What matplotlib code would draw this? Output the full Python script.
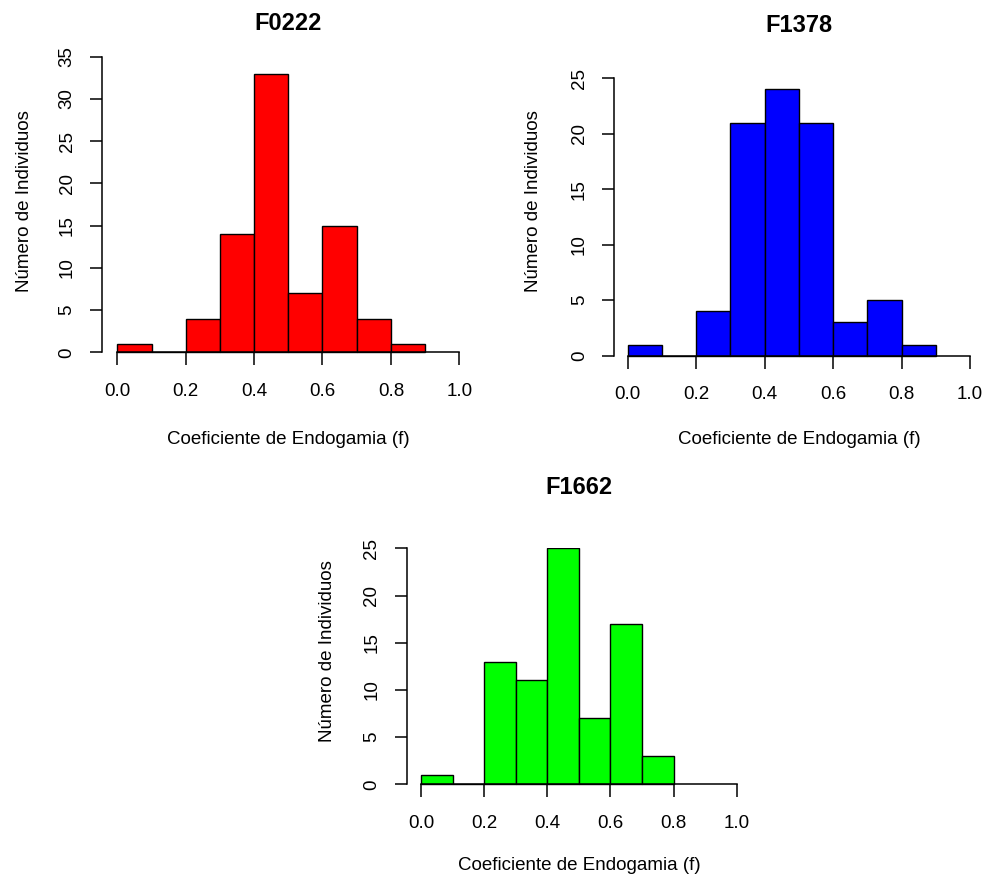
import numpy as np
import matplotlib.pyplot as plt

plt.rcParams['font.family'] = ['Liberation Sans', 'DejaVu Sans']

# histogram counts (bins of width 0.1 starting at 0)
bin_left = [0.0, 0.1, 0.2, 0.3, 0.4, 0.5, 0.6, 0.7, 0.8]
counts_f0222 = [1, 0, 4, 14, 33, 7, 15, 4, 1]
counts_f1378 = [1, 0, 4, 21, 24, 21, 3, 5, 1]
counts_f1662 = [1, 0, 13, 11, 25, 7, 17, 3]

titles = ['F0222', 'F1378', 'F1662']
colors = ['#FF0000', '#0000FF', '#00FF00']
yticks_f0222 = [0, 5, 10, 15, 20, 25, 30, 35]
yticks_f1378 = [0, 5, 10, 15, 20, 25]
yticks_f1662 = [0, 5, 10, 15, 20, 25]
xticks = [0.0, 0.2, 0.4, 0.6, 0.8, 1.0]
xlabel = 'Coeficiente de Endogamia (f)'
ylabel = 'Número de Individuos'

W, H = 984, 876
fig = plt.figure(figsize=(W / 100, H / 100), dpi=100)


def panel(counts, color, title, yticks, x0, x1, y0, ytop, yaxis_px,
          title_y, xlab_y, ylab_x, ylab_y):
    # x0/x1: pixel of x=0 and x=1, y0/ytop: pixel of y=0 and top tick
    ymax = yticks[-1]
    sx = x1 - x0
    sy = (y0 - ytop) / ymax
    xlim = ((yaxis_px - x0) / sx, 1.04)
    ylim = (-3 / sy, ymax)
    left = x0 + xlim[0] * sx
    right = x0 + xlim[1] * sx
    bottom = y0 - ylim[0] * sy
    top = y0 - ylim[1] * sy
    ax = fig.add_axes([left / W, 1 - bottom / H, (right - left) / W, (bottom - top) / H])

    ax.bar(bin_left[:len(counts)], counts, width=0.1, align='edge',
           color=color, edgecolor='black', linewidth=1.0)
    ax.set_xlim(*xlim)
    ax.set_ylim(*ylim)
    for s in ['top', 'right']:
        ax.spines[s].set_visible(False)
    ax.spines['bottom'].set_position(('data', 0))
    ax.spines['left'].set_bounds(0, ymax)
    ax.spines['bottom'].set_bounds(0, 1)
    for s in ['left', 'bottom']:
        ax.spines[s].set_linewidth(1.1)
    ax.set_xticks(xticks)
    ax.set_xticklabels(['%.1f' % t for t in xticks])
    ax.set_yticks(yticks)
    ax.tick_params(axis='x', direction='out', length=9, width=1.1, pad=13, labelsize=13.5)
    ax.tick_params(axis='y', direction='out', length=9, width=1.1, pad=10, labelsize=13.5,
                   labelrotation=90)
    for lab in ax.get_yticklabels():
        lab.set_va('center')
    ax.patch.set_visible(False)

    xc = (x0 + x1) / 2
    fig.text(xc / W, 1 - title_y / H, title, ha='center', va='center',
             fontsize=17, fontweight='bold')
    fig.text(xc / W, 1 - xlab_y / H, xlabel, ha='center', va='center', fontsize=13.5)
    fig.text(ylab_x / W, 1 - ylab_y / H, ylabel, ha='center', va='center',
             rotation=90, fontsize=13.5)
    return ax


panel(counts_f0222, colors[0], titles[0], yticks_f0222,
      117.3, 459.3, 352.3, 56.7, 102, 24, 440, 25, 201)
panel(counts_f1378, colors[1], titles[1], yticks_f1378,
      627.7, 970, 355.7, 78.3, 614.3, 25, 440, 533, 201)
panel(counts_f1662, colors[2], titles[2], yticks_f1662,
      421, 736.7, 784.3, 548.3, 406.7, 487, 865, 327, 651)

fig.savefig('out.png', dpi=100)
